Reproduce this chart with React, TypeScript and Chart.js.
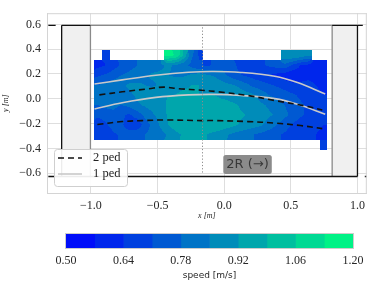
import React, { useEffect, useRef } from 'react';
import { Chart, registerables } from 'chart.js';

Chart.register(...registerables);

// ---------- data ----------
const X_TICKS = [-1.0, -0.5, 0.0, 0.5, 1.0];
const Y_TICKS = [-0.6, -0.4, -0.2, 0.0, 0.2, 0.4, 0.6];
const CB_TICKS = [0.5, 0.64, 0.78, 0.92, 1.06, 1.2];
const SPEED_LEVELS = [0.5, 0.57, 0.64, 0.71, 0.78, 0.85, 0.92, 0.99, 1.06, 1.13, 1.2];

const PED2_UPPER_X = [-0.937, -0.766, -0.565, -0.454, -0.342, -0.171, -0.045, 0.178, 0.379, 0.602, 0.736];
const PED2_UPPER_Y = [0.031, 0.056, 0.081, 0.094, 0.081, 0.069, 0.056, 0.026, -0.014, -0.057, -0.09];
const PED2_LOWER_X = [-0.952, -0.766, -0.617, -0.439, -0.171, -0.067, 0.178, 0.379, 0.572, 0.736];
const PED2_LOWER_Y = [-0.208, -0.184, -0.176, -0.171, -0.176, -0.176, -0.184, -0.196, -0.216, -0.241];
const PED1_UPPER_X = [-0.974, -0.766, -0.513, -0.268, -0.082, 0.126, 0.379, 0.55, 0.758];
const PED1_UPPER_Y = [0.119, 0.152, 0.19, 0.214, 0.22, 0.212, 0.182, 0.131, 0.039];
const PED1_LOWER_X = [-0.974, -0.766, -0.513, -0.268, -0.082, 0.126, 0.379, 0.55, 0.758];
const PED1_LOWER_Y = [-0.082, -0.032, 0.011, 0.031, 0.035, 0.026, 0.001, -0.045, -0.125];

// speed field (m/s), rows top -> bottom, columns left -> right
const HEAT_X0 = -0.975;
const HEAT_DX = 0.0583;
const HEAT_Y0 = 0.39;
const HEAT_DY = 0.08;
const _ = null;
const HEAT_SPEED: (number | null)[][] = [
  [_, 0.66, _, _, _, _, _, _, _, 1.16, 1.12, 0.98, 0.8, 0.7, _, _, _, _, _, _, _, _, _, _, 0.9, 0.92, 0.9, 0.86, _, _],
  [0.62, 0.64, 0.68, 0.72, 0.75, 0.78, 0.8, 0.82, 0.84, 0.86, 0.84, 0.8, 0.76, 0.72, 0.7, 0.72, 0.76, 0.74, 0.7, 0.68, 0.68, 0.7, 0.72, 0.74, 0.76, 0.7, 0.64, 0.62, 0.6, 0.6],
  [0.7, 0.72, 0.75, 0.78, 0.8, 0.82, 0.84, 0.86, 0.86, 0.85, 0.84, 0.84, 0.86, 0.88, 0.86, 0.84, 0.8, 0.76, 0.72, 0.7, 0.68, 0.66, 0.64, 0.62, 0.6, 0.58, 0.6, 0.62, 0.62, 0.6],
  [0.78, 0.8, 0.82, 0.84, 0.86, 0.86, 0.85, 0.84, 0.86, 0.88, 0.9, 0.9, 0.92, 0.92, 0.9, 0.9, 0.88, 0.86, 0.84, 0.8, 0.76, 0.74, 0.72, 0.7, 0.68, 0.66, 0.66, 0.66, 0.64, 0.62],
  [0.82, 0.84, 0.84, 0.82, 0.84, 0.86, 0.88, 0.9, 0.9, 0.92, 0.92, 0.94, 0.94, 0.92, 0.92, 0.92, 0.9, 0.9, 0.9, 0.88, 0.86, 0.82, 0.78, 0.76, 0.74, 0.72, 0.7, 0.68, 0.66, 0.64],
  [0.78, 0.8, 0.8, 0.78, 0.8, 0.84, 0.86, 0.88, 0.9, 0.93, 0.94, 0.95, 0.95, 0.94, 0.93, 0.95, 0.95, 0.93, 0.92, 0.9, 0.88, 0.86, 0.84, 0.8, 0.78, 0.74, 0.72, 0.7, 0.68, 0.66],
  [0.72, 0.74, 0.76, 0.72, 0.7, 0.74, 0.8, 0.84, 0.88, 0.93, 0.96, 0.97, 0.97, 0.96, 0.96, 0.97, 0.96, 0.95, 0.93, 0.92, 0.9, 0.88, 0.86, 0.84, 0.8, 0.76, 0.72, 0.7, 0.68, 0.66],
  [0.68, 0.7, 0.74, 0.72, 0.68, 0.66, 0.74, 0.8, 0.86, 0.92, 0.96, 0.97, 0.97, 0.97, 0.96, 0.97, 0.96, 0.95, 0.92, 0.9, 0.88, 0.86, 0.82, 0.78, 0.74, 0.7, 0.68, 0.66, 0.66, 0.64],
  [0.64, 0.66, 0.7, 0.72, 0.74, 0.76, 0.78, 0.8, 0.82, 0.86, 0.9, 0.93, 0.94, 0.93, 0.92, 0.9, 0.88, 0.84, 0.82, 0.8, 0.78, 0.76, 0.74, 0.72, 0.7, 0.68, 0.66, 0.66, 0.64, 0.62],
  [_, _, _, _, _, _, _, _, _, _, _, _, _, _, _, _, _, _, _, _, _, _, _, _, _, _, _, _, _, 0.66],
];

// geometry (data coordinates, m)
const WALL_TOP_Y = 0.592;
const WALL_BOTTOM_Y = -0.627;
const OBSTACLE_X0 = [-1.22, 0.81];
const OBSTACLE_X1 = [-1.004, 1.0];
const BLACK_TOP_SEGMENTS = [[-1.32, -1.265], [-1.22, -1.004], [0.81, 1.04]];
const GRAY_TOP_SEGMENTS = [[-1.004, 0.81]];
const BLACK_BOTTOM_SEGMENTS = [[-1.32, 1.0], [1.055, 1.08]];
const BLACK_EDGES_X = [-1.22, 1.0];
const GRAY_EDGES_X = [-1.004, 0.81];
const MEASURE_LINE_X = -0.17;
const LABEL_TEXT = '2R (\u2192)';
const LABEL_X = 0.175;
const LABEL_Y = -0.53;

// ---------- helpers ----------
function winter(t: number): string {
  return `rgb(0,${Math.round(255 * t)},${Math.round(255 * (1 - 0.5 * t))})`;
}
const NBANDS = SPEED_LEVELS.length - 1;
const BAND_COLORS = SPEED_LEVELS.slice(0, -1).map((lv, i) => winter((i + 0.5) / NBANDS));
function bandIndex(v: number): number {
  let i = 0;
  while (i < NBANDS - 1 && v >= SPEED_LEVELS[i + 1]) i++;
  return i;
}
const zip = (xs: number[], ys: number[]) => xs.map((x, i) => ({ x, y: ys[i] }));
const fmt1 = (v: number) => (v < -1e-9 ? '\u2212' : '') + Math.abs(v).toFixed(1);

const SERIF = '"Liberation Serif", "DejaVu Serif", serif';
const SANS = '"DejaVu Sans", sans-serif';

function roundRectPath(ctx: CanvasRenderingContext2D, x: number, y: number, w: number, h: number, r: number) {
  ctx.beginPath();
  ctx.moveTo(x + r, y);
  ctx.lineTo(x + w - r, y);
  ctx.quadraticCurveTo(x + w, y, x + w, y + r);
  ctx.lineTo(x + w, y + h - r);
  ctx.quadraticCurveTo(x + w, y + h, x + w - r, y + h);
  ctx.lineTo(x + r, y + h);
  ctx.quadraticCurveTo(x, y + h, x, y + h - r);
  ctx.lineTo(x, y + r);
  ctx.quadraticCurveTo(x, y, x + r, y);
  ctx.closePath();
}

const backgroundPlugin = {
  id: 'corridorBackground',
  beforeDatasetsDraw(chart: any) {
    const { ctx, chartArea: ca, scales } = chart;
    const sx = scales.x, sy = scales.y;
    ctx.save();
    ctx.beginPath();
    ctx.rect(ca.left, ca.top, ca.right - ca.left, ca.bottom - ca.top);
    ctx.clip();

    // obstacles
    const yt = sy.getPixelForValue(WALL_TOP_Y);
    const yb = sy.getPixelForValue(WALL_BOTTOM_Y);
    ctx.fillStyle = '#f0f0f0';
    for (let i = 0; i < OBSTACLE_X0.length; i++) {
      const a = sx.getPixelForValue(OBSTACLE_X0[i]);
      const b = sx.getPixelForValue(OBSTACLE_X1[i]);
      ctx.fillRect(a, yt, b - a, yb - yt);
    }

    // speed field: bilinear between cell centres, quantised to contour levels
    const nR = HEAT_SPEED.length, nC = HEAT_SPEED[0].length;
    const val = (r: number, c: number) => (r >= 0 && r < nR && c >= 0 && c < nC ? HEAT_SPEED[r][c] : null);
    for (let r = 0; r < nR; r++) {
      for (let c = 0; c < nC; c++) {
        const v = HEAT_SPEED[r][c];
        if (v == null) continue;
        const xa = Math.round(sx.getPixelForValue(HEAT_X0 + c * HEAT_DX));
        const xb = Math.round(sx.getPixelForValue(HEAT_X0 + (c + 1) * HEAT_DX));
        const ya = Math.round(sy.getPixelForValue(HEAT_Y0 - r * HEAT_DY));
        const yb2 = Math.round(sy.getPixelForValue(HEAT_Y0 - (r + 1) * HEAT_DY));
        const g = (rr: number, cc: number) => {
          const w = val(rr, cc);
          return w == null ? v : w;
        };
        for (let py = ya; py < yb2; py++) {
          for (let px = xa; px < xb; px++) {
            const dx = sx.getValueForPixel(px + 0.5);
            const dy = sy.getValueForPixel(py + 0.5);
            const fc = (dx - HEAT_X0) / HEAT_DX - 0.5;
            const fr = (HEAT_Y0 - dy) / HEAT_DY - 0.5;
            const c0 = Math.floor(fc), r0 = Math.floor(fr);
            const tx = fc - c0, ty = fr - r0;
            const s = (1 - ty) * ((1 - tx) * g(r0, c0) + tx * g(r0, c0 + 1)) +
              ty * ((1 - tx) * g(r0 + 1, c0) + tx * g(r0 + 1, c0 + 1));
            ctx.fillStyle = BAND_COLORS[bandIndex(s)];
            ctx.fillRect(px, py, 1, 1);
          }
        }
      }
    }

    // walls and obstacle edges
    ctx.lineWidth = 1.3;
    ctx.strokeStyle = '#8a8a8a';
    for (const [a, b] of GRAY_TOP_SEGMENTS) {
      ctx.beginPath();
      ctx.moveTo(sx.getPixelForValue(a), yt);
      ctx.lineTo(sx.getPixelForValue(b), yt);
      ctx.stroke();
    }
    for (const gx of GRAY_EDGES_X) {
      ctx.beginPath();
      ctx.moveTo(sx.getPixelForValue(gx), yt);
      ctx.lineTo(sx.getPixelForValue(gx), yb);
      ctx.stroke();
    }
    ctx.strokeStyle = '#111111';
    for (const [a, b] of BLACK_TOP_SEGMENTS) {
      ctx.beginPath();
      ctx.moveTo(sx.getPixelForValue(a), yt);
      ctx.lineTo(sx.getPixelForValue(b), yt);
      ctx.stroke();
    }
    for (const [a, b] of BLACK_BOTTOM_SEGMENTS) {
      ctx.beginPath();
      ctx.moveTo(sx.getPixelForValue(a), yb);
      ctx.lineTo(sx.getPixelForValue(b), yb);
      ctx.stroke();
    }
    for (const bx of BLACK_EDGES_X) {
      ctx.beginPath();
      ctx.moveTo(sx.getPixelForValue(bx), yt);
      ctx.lineTo(sx.getPixelForValue(bx), yb);
      ctx.stroke();
    }
    ctx.restore();
  },
};

const overlayPlugin = {
  id: 'corridorOverlay',
  afterDatasetsDraw(chart: any) {
    const { ctx, chartArea: ca, scales } = chart;
    const sx = scales.x, sy = scales.y;
    ctx.save();

    // measurement line
    const mx = Math.round(sx.getPixelForValue(MEASURE_LINE_X)) + 0.5;
    ctx.strokeStyle = '#8c8c8c';
    ctx.lineWidth = 1;
    ctx.setLineDash([1.2, 2]);
    ctx.beginPath();
    ctx.moveTo(mx, sy.getPixelForValue(WALL_TOP_Y) + 2);
    ctx.lineTo(mx, sy.getPixelForValue(WALL_BOTTOM_Y) - 2);
    ctx.stroke();
    ctx.setLineDash([]);

    // label box
    ctx.font = `13px ${SANS}`;
    const tw = ctx.measureText(LABEL_TEXT).width;
    const cx = sx.getPixelForValue(LABEL_X);
    const cy = sy.getPixelForValue(LABEL_Y);
    const bw = tw + 6, bh = 19;
    roundRectPath(ctx, cx - bw / 2, cy - bh / 2, bw, bh, 2.5);
    ctx.fillStyle = '#8b8b8b';
    ctx.fill();
    ctx.fillStyle = '#383838';
    ctx.textAlign = 'center';
    ctx.textBaseline = 'middle';
    ctx.fillText(LABEL_TEXT, cx, cy + 0.5);

    // top and right spines
    ctx.strokeStyle = '#d4d4d4';
    ctx.lineWidth = 1;
    ctx.beginPath();
    ctx.moveTo(ca.left, ca.top + 0.5);
    ctx.lineTo(ca.right, ca.top + 0.5);
    ctx.moveTo(ca.right - 0.5, ca.top);
    ctx.lineTo(ca.right - 0.5, ca.bottom);
    ctx.stroke();

    // legend
    const lx = ca.left + 7, ly = ca.bottom - 44, lw = 73, lh = 37;
    roundRectPath(ctx, lx + 0.5, ly + 0.5, lw, lh, 3);
    ctx.fillStyle = 'rgba(255,255,255,0.92)';
    ctx.fill();
    ctx.strokeStyle = '#cfcfcf';
    ctx.stroke();
    const entries = [chart.data.datasets[0], chart.data.datasets[2]];
    entries.forEach((ds: any, i: number) => {
      const yy = ly + 9 + i * 16;
      ctx.strokeStyle = ds.borderColor;
      ctx.lineWidth = ds.borderWidth;
      ctx.setLineDash(ds.borderDash || []);
      ctx.beginPath();
      ctx.moveTo(lx + 4, yy);
      ctx.lineTo(lx + 28, yy);
      ctx.stroke();
      ctx.setLineDash([]);
      ctx.fillStyle = '#222';
      ctx.font = `12.5px ${SERIF}`;
      ctx.textAlign = 'left';
      ctx.textBaseline = 'middle';
      ctx.fillText(ds.label, lx + 39, yy);
    });
    ctx.restore();
  },
};

const colorbarOutline = {
  id: 'colorbarOutline',
  afterDatasetsDraw(chart: any) {
    const { ctx, chartArea: ca } = chart;
    ctx.save();
    ctx.strokeStyle = '#cccccc';
    ctx.lineWidth = 1;
    ctx.strokeRect(ca.left - 0.5, ca.top - 0.5, ca.right - ca.left + 1, ca.bottom - ca.top + 1);
    ctx.restore();
  },
};

export default function App() {
  const mainRef = useRef<HTMLCanvasElement>(null);
  const cbRef = useRef<HTMLCanvasElement>(null);

  useEffect(() => {
    const tickFont = { family: SERIF, size: 12 };
    const lineDs = (label: string, xs: number[], ys: number[], color: string, dash: number[] | undefined) => ({
      label,
      data: zip(xs, ys),
      showLine: true,
      borderColor: color,
      borderWidth: 1.6,
      borderDash: dash,
      pointRadius: 0,
      tension: 0.35,
      fill: false,
    });

    const main = new Chart(mainRef.current as HTMLCanvasElement, {
      type: 'scatter',
      data: {
        datasets: [
          lineDs('2 ped', PED2_UPPER_X, PED2_UPPER_Y, '#111111', [6, 4]),
          lineDs('2 ped', PED2_LOWER_X, PED2_LOWER_Y, '#111111', [6, 4]),
          lineDs('1 ped', PED1_UPPER_X, PED1_UPPER_Y, '#c9c9c9', undefined),
          lineDs('1 ped', PED1_LOWER_X, PED1_LOWER_Y, '#c9c9c9', undefined),
        ] as any,
      },
      options: {
        responsive: false,
        animation: false,
        devicePixelRatio: 1,
        layout: { padding: { top: 1, right: 1, left: 0, bottom: 0 } },
        plugins: { legend: { display: false }, tooltip: { enabled: false } },
        scales: {
          x: {
            type: 'linear',
            min: -1.33,
            max: 1.07,
            afterBuildTicks: (s: any) => { s.ticks = X_TICKS.map((v) => ({ value: v })); },
            afterFit: (s: any) => { s.height = 35; },
            grid: { color: '#dedede', lineWidth: 1, drawTicks: false },
            border: { color: '#d4d4d4' },
            ticks: { padding: 6, autoSkip: false, maxRotation: 0, font: tickFont, color: '#262626', callback: (v: any) => fmt1(Number(v)) },
            title: { display: true, text: 'x [m]', font: { family: SERIF, size: 8, style: 'italic' }, color: '#262626', padding: { top: 0, bottom: 7 } },
          },
          y: {
            type: 'linear',
            min: -0.76,
            max: 0.69,
            afterBuildTicks: (s: any) => { s.ticks = Y_TICKS.map((v) => ({ value: v })); },
            afterFit: (s: any) => { s.width = 47; },
            grid: { color: '#dedede', lineWidth: 1, drawTicks: false },
            border: { color: '#d4d4d4' },
            ticks: { padding: 6, autoSkip: false, font: tickFont, color: '#262626', callback: (v: any) => fmt1(Number(v)) },
            title: { display: true, text: 'y [m]', font: { family: SERIF, size: 8, style: 'italic' }, color: '#262626', padding: { top: 1, bottom: 0 } },
          },
        },
      } as any,
      plugins: [backgroundPlugin, overlayPlugin],
    });

    const cb = new Chart(cbRef.current as HTMLCanvasElement, {
      type: 'bar',
      data: {
        labels: ['speed'],
        datasets: SPEED_LEVELS.slice(0, -1).map((lo, i) => ({
          label: `${lo}`,
          data: [[lo, SPEED_LEVELS[i + 1]]],
          backgroundColor: BAND_COLORS[i],
          borderWidth: 0,
          barPercentage: 1,
          categoryPercentage: 1,
          grouped: false,
        })) as any,
      },
      options: {
        indexAxis: 'y',
        responsive: false,
        animation: false,
        devicePixelRatio: 1,
        layout: { padding: { top: 6, left: 66, right: 18, bottom: 0 } },
        plugins: { legend: { display: false }, tooltip: { enabled: false } },
        scales: {
          x: {
            type: 'linear',
            min: 0.5,
            max: 1.2,
            afterBuildTicks: (s: any) => { s.ticks = CB_TICKS.map((v) => ({ value: v })); },
            afterFit: (s: any) => { s.height = 37; },
            grid: { display: false, drawTicks: false },
            border: { display: false },
            ticks: { padding: 6, autoSkip: false, maxRotation: 0, font: tickFont, color: '#262626', callback: (v: any) => Number(v).toFixed(2) },
            title: { display: true, text: 'speed [m/s]', font: { family: SANS, size: 9 }, color: '#262626', padding: { top: 0, bottom: 4 } },
          },
          y: { display: false },
        },
      } as any,
      plugins: [colorbarOutline],
    });

    return () => {
      main.destroy();
      cb.destroy();
    };
  }, []);

  return (
    <div style={{ position: 'absolute', left: 0, top: 0, width: 371, height: 285, background: '#ffffff' }}>
      <canvas ref={mainRef} width={371} height={228} style={{ position: 'absolute', left: 0, top: 0, display: 'block' }} />
      <canvas ref={cbRef} width={371} height={57} style={{ position: 'absolute', left: 0, top: 228, display: 'block' }} />
    </div>
  );
}
